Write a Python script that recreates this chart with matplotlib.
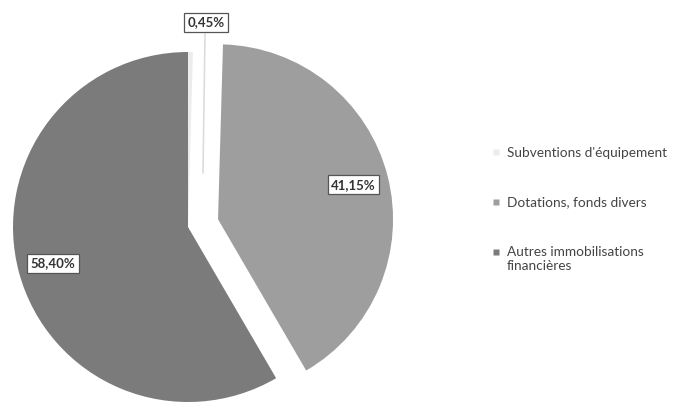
import matplotlib
matplotlib.use("Agg")
import matplotlib.pyplot as plt
from matplotlib.lines import Line2D
import numpy as np

categories = ["Subventions d'équipement", "Dotations, fonds divers",
              "Autres immobilisations\nfinancières"]
values = [0.45, 41.15, 58.40]
colors = ["#ececec", "#9e9e9e", "#7b7b7b"]

plt.rcParams['font.family'] = ['Lato', 'DejaVu Sans']

W, H = 681, 403
fig = plt.figure(figsize=(W / 100, H / 100), dpi=100)
ax = fig.add_axes([0, 0, 1, 1])

R = 175
cx, cy = 188, H - 227
wedges, _ = ax.pie(values, colors=colors, startangle=90, counterclock=False,
                   radius=R, center=(cx, cy), explode=[0.0, 31, 0.0],
                   wedgeprops=dict(linewidth=0), frame=True)
ax.set_xlim(0, W)
ax.set_ylim(0, H)
ax.set_aspect('equal')
ax.axis('off')

bbox = dict(boxstyle='square,pad=0.25', fc='white', ec='#555555', lw=0.9)
for i, w in enumerate(wedges):
    mid = np.deg2rad((w.theta1 + w.theta2) / 2)
    wcx, wcy = w.center
    txt = f"{values[i]:.2f}%".replace('.', ',')
    if i == 0:
        lx, ly = wcx + 18, wcy + 1.17 * R
        ax.plot([lx - 1, lx - 3], [ly - 12, wcy + 0.31 * R], color='#dcdcdc', lw=1.2)
    else:
        lx = wcx + 0.8 * R * np.cos(mid)
        ly = wcy + 0.8 * R * np.sin(mid)
    ax.text(lx, ly, txt, ha='center', va='center', fontsize=9.5,
            color='#333333', fontweight='bold', bbox=bbox)

handles = [Line2D([], [], marker='s', markersize=5, linestyle='none',
                  markerfacecolor=c, markeredgecolor='none') for c in colors]
leg = ax.legend(handles, categories, loc='upper left',
                bbox_to_anchor=(492 / W, 1 - 147 / H), frameon=False,
                fontsize=9.8, handlelength=0.6, handleheight=1.0,
                handletextpad=0.5, labelspacing=2.75, labelcolor='#444444',
                borderaxespad=0, borderpad=0)
for col in leg._legend_handle_box.get_children():
    for hp in col.get_children():
        hp.align = 'top'

fig.savefig("out.png", dpi=100)
